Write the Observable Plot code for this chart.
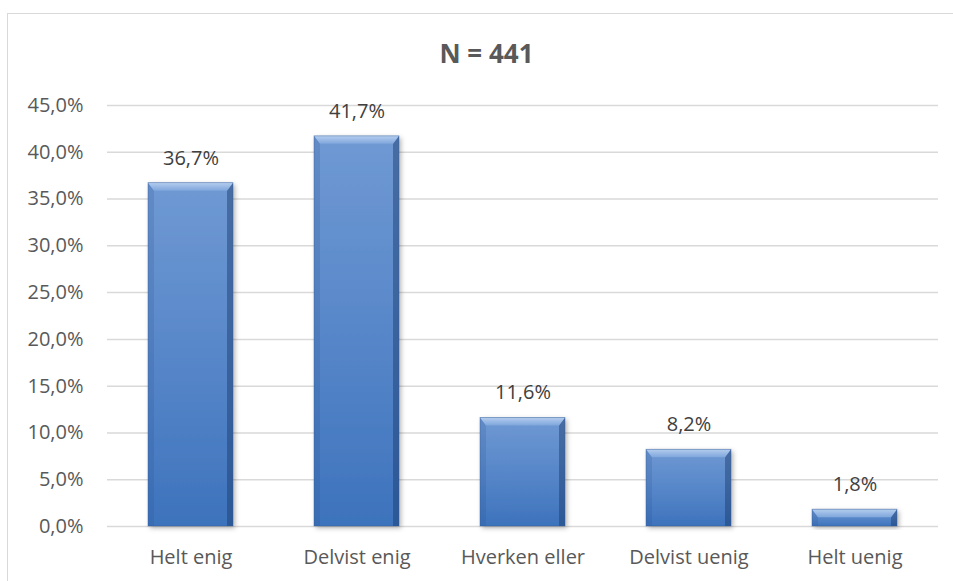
<!DOCTYPE html>
<html>
<head>
<meta charset="utf-8">
<script src="https://cdn.jsdelivr.net/npm/d3@7"></script>
<script src="https://cdn.jsdelivr.net/npm/@observablehq/plot@0.6"></script>
<style>
  html, body { margin: 0; padding: 0; background: #fff; }
  #wrap { position: relative; width: 953px; height: 581px; overflow: hidden; background: #fff; }
  #frame { position: absolute; left: 7px; top: 13px; width: 1000px; height: 700px; border: 1px solid #d9d9d9; box-sizing: border-box; }
  #title { position: absolute; left: 0; top: 0; width: 973px; height: 80px; line-height: 106px; text-align: center;
           font-family: "Open Sans", sans-serif; font-weight: bold; font-size: 26px; color: #595959; }
  #chart { position: absolute; left: 0; top: 80px; }
</style>
</head>
<body>
<div id="wrap">
  <div id="frame"></div>
  <div id="title">N = 441</div>
  <div id="chart"></div>
</div>
<script>
const categories = ["Helt enig", "Delvist enig", "Hverken eller", "Delvist uenig", "Helt uenig"];
const values = [36.7, 41.7, 11.6, 8.2, 1.8];
const yTicks = [0, 5, 10, 15, 20, 25, 30, 35, 40, 45];

const data = categories.map((c, i) => ({ category: c, value: values[i] }));
const fmt = v => v.toFixed(1).replace(".", ",") + "%";

const chart = Plot.plot({
  width: 953,
  height: 501,
  marginLeft: 107,
  marginRight: 15,
  marginTop: 25,
  marginBottom: 55,
  style: { fontFamily: "'Open Sans', sans-serif", fontSize: "20px", color: "#595959", background: "transparent", overflow: "visible" },
  x: { domain: categories, paddingInner: 0.49, paddingOuter: 0.245, label: null, tickSize: 0, tickPadding: 23 },
  y: { domain: [0, 45], ticks: yTicks, tickFormat: fmt, label: null, tickSize: 0, tickPadding: 24 },
  marks: [
    Plot.gridY(yTicks, { stroke: "#d9d9d9", strokeOpacity: 1, strokeWidth: 1.5 }),
    Plot.barY(data, { x: "category", y: "value", fill: "url(#barV)", ariaLabel: "bar" }),
    Plot.text(data, { x: "category", y: "value", text: d => fmt(d.value), dy: -25, fill: "#404040", fontSize: 20 })
  ]
});
document.getElementById("chart").appendChild(chart);

// gradients, shadow and bevel
const svg = d3.select(chart);
const defs = svg.insert("defs", ":first-child");
const gv = defs.append("linearGradient").attr("id", "barV").attr("x1", 0).attr("y1", 0).attr("x2", 0).attr("y2", 1);
gv.append("stop").attr("offset", "0%").attr("stop-color", "#6f99d3");
gv.append("stop").attr("offset", "55%").attr("stop-color", "#5585c8");
gv.append("stop").attr("offset", "100%").attr("stop-color", "#3d73bc");
const gt = defs.append("linearGradient").attr("id", "bevTop").attr("x1", 0).attr("y1", 0).attr("x2", 0).attr("y2", 1);
gt.append("stop").attr("offset", "0%").attr("stop-color", "#b4cdee");
gt.append("stop").attr("offset", "100%").attr("stop-color", "#7fa6dc");
const f = defs.append("filter").attr("id", "shadow").attr("x", "-20%").attr("y", "-20%").attr("width", "140%").attr("height", "140%");
f.append("feDropShadow").attr("dx", 2).attr("dy", 2).attr("stdDeviation", 2.5).attr("flood-color", "#000").attr("flood-opacity", 0.3);

svg.selectAll("g[aria-label=bar] rect").each(function() {
  const r = d3.select(this);
  r.attr("filter", "url(#shadow)");
  const x = +r.attr("x"), y = +r.attr("y"), w = +r.attr("width"), h = +r.attr("height");
  const g = d3.select(this.parentNode);
  const b = Math.min(8, h / 2);
  const s = Math.min(6, h / 2);
  // left edge
  g.append("polygon").attr("points", `${x},${y} ${x + s},${y + b} ${x + s},${y + h} ${x},${y + h}`).attr("fill", "rgba(40,80,140,0.18)");
  // right edge
  g.append("polygon").attr("points", `${x + w},${y} ${x + w - s},${y + b} ${x + w - s},${y + h} ${x + w},${y + h}`).attr("fill", "rgba(25,55,105,0.45)");
  // top bevel
  g.append("polygon").attr("points", `${x},${y} ${x + w},${y} ${x + w - s},${y + b} ${x + s},${y + b}`).attr("fill", "url(#bevTop)");
  g.append("rect").attr("x", x).attr("y", y).attr("width", w).attr("height", h).attr("fill", "none").attr("stroke", "rgba(50,90,150,0.5)").attr("stroke-width", 0.8);
});
</script>
</body>
</html>
